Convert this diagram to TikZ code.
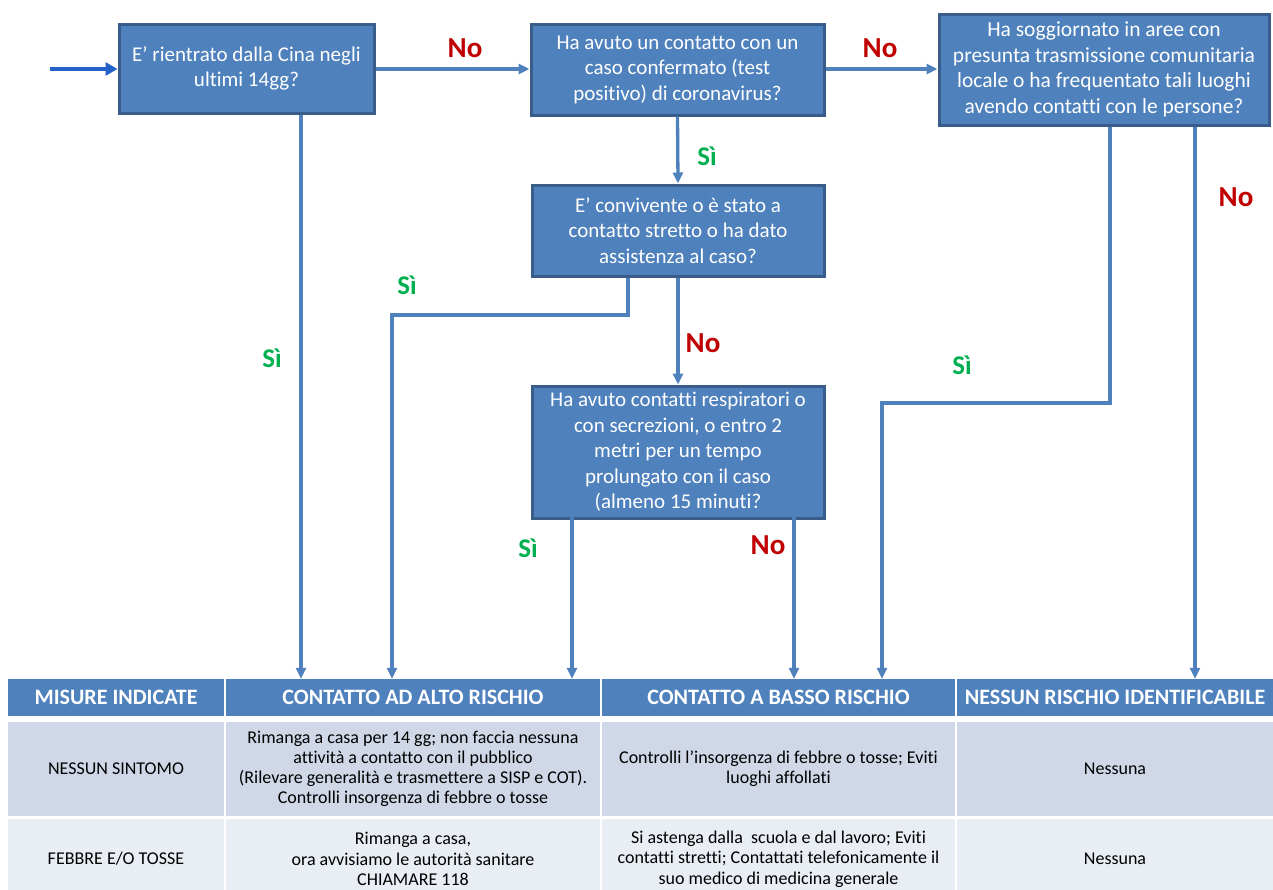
\documentclass[tikz,border=0pt]{standalone}
\usepackage{fontspec}
\setmainfont{Carlito}[Ligatures=NoCommon]
\usetikzlibrary{arrows.meta,shadows}
\definecolor{boxblue}{HTML}{4F81BD}
\definecolor{boxborder}{HTML}{385D8A}
\definecolor{entryblue}{HTML}{2462C8}
\definecolor{nored}{HTML}{C00000}
\definecolor{sigreen}{HTML}{00B050}
\definecolor{rowone}{HTML}{D0D8E8}
\definecolor{rowtwo}{HTML}{E9EDF4}
\begin{document}
\begin{tikzpicture}[x=1pt,y=-1pt,
  qbox/.style={draw=boxborder, line width=3pt, fill=boxblue, text=white, align=center,
    font=\fontsize{21}{25.5}\selectfont, inner sep=0pt,
    drop shadow={shadow xshift=2pt, shadow yshift=-2pt, opacity=0.35, fill=black}},
  conn/.style={draw=boxblue, line width=3.3pt, -{Triangle[length=11pt,width=10pt]}},
  hdr/.style={fill=boxblue, text=white, font=\fontsize{22}{24}\selectfont\bfseries, inner sep=0pt, align=center},
  cellone/.style={fill=rowone, text=black, font=\fontsize{18}{20}\selectfont, inner sep=0pt, align=center},
  celltwo/.style={fill=rowtwo, text=black, font=\fontsize{18}{20.5}\selectfont, inner sep=0pt, align=center},
  nolab/.style={text=nored, font=\fontsize{29}{30}\selectfont\bfseries},
  silab/.style={text=sigreen, font=\fontsize{27}{30}\selectfont\bfseries}]
\useasboundingbox (0,0) rectangle (1273,889);
\fill[white] (0,0) rectangle (1273,889);

% question boxes
\node[qbox, minimum width=255pt, minimum height=89pt] (b1) at (246.5,68.5)
  {E’ rientrato dalla Cina negli\\ultimi 14gg?};
\node[qbox, minimum width=293pt, minimum height=91pt] (b2) at (677.5,69.5)
  {Ha avuto un contatto con un\\caso confermato (test\\positivo) di coronavirus?};
\node[qbox, minimum width=330pt, minimum height=111pt, font=\fontsize{21.5}{25.5}\selectfont] (b3) at (1104,69.5)
  {Ha soggiornato in aree con\\presunta trasmissione comunitaria\\locale o ha frequentato tali luoghi\\avendo contatti con le persone?};
\node[qbox, minimum width=292pt, minimum height=91pt] (b4) at (678,230.5)
  {E’ convivente o è stato a\\contatto stretto o ha dato\\assistenza al caso?};
\node[qbox, minimum width=292pt, minimum height=132pt] (b5) at (678,452)
  {Ha avuto contatti respiratori o\\con secrezioni, o entro 2\\metri per un tempo\\prolungato con il caso\\(almeno 15 minuti?};

% table
\node[hdr, minimum width=216pt, minimum height=37pt] (h1) at (116,697.5) {MISURE INDICATE};
\node[hdr, minimum width=374pt, minimum height=37pt] (h2) at (413,697.5) {CONTATTO AD ALTO RISCHIO};
\node[hdr, minimum width=353pt, minimum height=37pt] (h3) at (778.5,697.5) {CONTATTO A BASSO RISCHIO};
\node[hdr, minimum width=316pt, minimum height=37pt] (h4) at (1115,697.5) {NESSUN RISCHIO IDENTIFICABILE};

\node[cellone, minimum width=216pt, minimum height=94pt] (r1c1) at (116,768.5) {NESSUN SINTOMO};
\node[cellone, minimum width=374pt, minimum height=94pt] (r1c2) at (413,768.5)
  {Rimanga a casa per 14 gg; non faccia nessuna\\attività a contatto con il pubblico\\(Rilevare generalità e trasmettere a SISP e COT).\\Controlli insorgenza di febbre o tosse};
\node[cellone, minimum width=353pt, minimum height=94pt] (r1c3) at (778.5,768.5)
  {Controlli l’insorgenza di febbre o tosse; Eviti\\luoghi affollati};
\node[cellone, minimum width=316pt, minimum height=94pt] (r1c4) at (1115,768.5) {Nessuna};

\node[celltwo, minimum width=216pt, minimum height=80pt] (r2c1) at (116,859) {FEBBRE E/O TOSSE};
\node[celltwo, minimum width=374pt, minimum height=80pt] (r2c2) at (413,859)
  {Rimanga a casa,\\ora avvisiamo le autorità sanitare\\CHIAMARE 118};
\node[celltwo, minimum width=353pt, minimum height=80pt] (r2c3) at (778.5,859)
  {Si astenga dalla\ \ scuola e dal lavoro; Eviti\\contatti stretti; Contattati telefonicamente il\\suo medico di medicina generale};
\node[celltwo, minimum width=316pt, minimum height=80pt] (r2c4) at (1115,859) {Nessuna};

% tap coordinates
\coordinate (start) at (50,69);
\coordinate (xa) at (301,0);
\coordinate (xb) at (392,0);
\coordinate (xc) at (628,0);
\coordinate (xd) at (572,0);
\coordinate (xe) at (794,0);
\coordinate (xf) at (882,0);
\coordinate (xg) at (1110,0);
\coordinate (xh) at (1195,0);
\coordinate (ya) at (0,315);
\coordinate (yb) at (0,403);
\coordinate (yd) at (0,502);
\coordinate (ye) at (0,478);

% connectors
\draw[draw=entryblue, line width=4pt, -{Triangle[length=12pt,width=13pt]}] (start) -- (b1.west |- start);
\draw[conn] (b1.east |- start) -- (b2.west |- start);
\draw[conn] (b2.east |- start) -- (b3.west |- start);
\draw[conn] (b2.south) -- (b4.north);
\draw[conn] (b4.south) -- (b5.north);
\draw[conn] (b1.south -| xa) -- (h2.north -| xa);
\draw[conn] (b4.south -| xc) -- (xc |- ya) -- (xb |- ya) -- (h2.north -| xb);
\draw[conn] (xd |- yd) -- (h2.north -| xd);
\draw[conn] (xe |- ye) -- (h3.north -| xe);
\draw[conn] (b3.south -| xg) -- (xg |- yb) -- (xf |- yb) -- (h3.north -| xf);
\draw[conn] (b3.south -| xh) -- (h4.north -| xh);

% labels
\node[nolab] (l1) at (465,48) {No};
\node[nolab] (l2) at (880,48) {No};
\node[silab] (l3) at (707,156) {Sì};
\node[silab] (l4) at (272,358) {Sì};
\node[silab] (l5) at (407,285) {Sì};
\node[nolab] (l6) at (703,343) {No};
\node[silab] (l7) at (528,548) {Sì};
\node[nolab] (l8) at (768,545) {No};
\node[silab] (l9) at (962,365) {Sì};
\node[nolab] (l10) at (1236,197) {No};
\end{tikzpicture}
\end{document}
